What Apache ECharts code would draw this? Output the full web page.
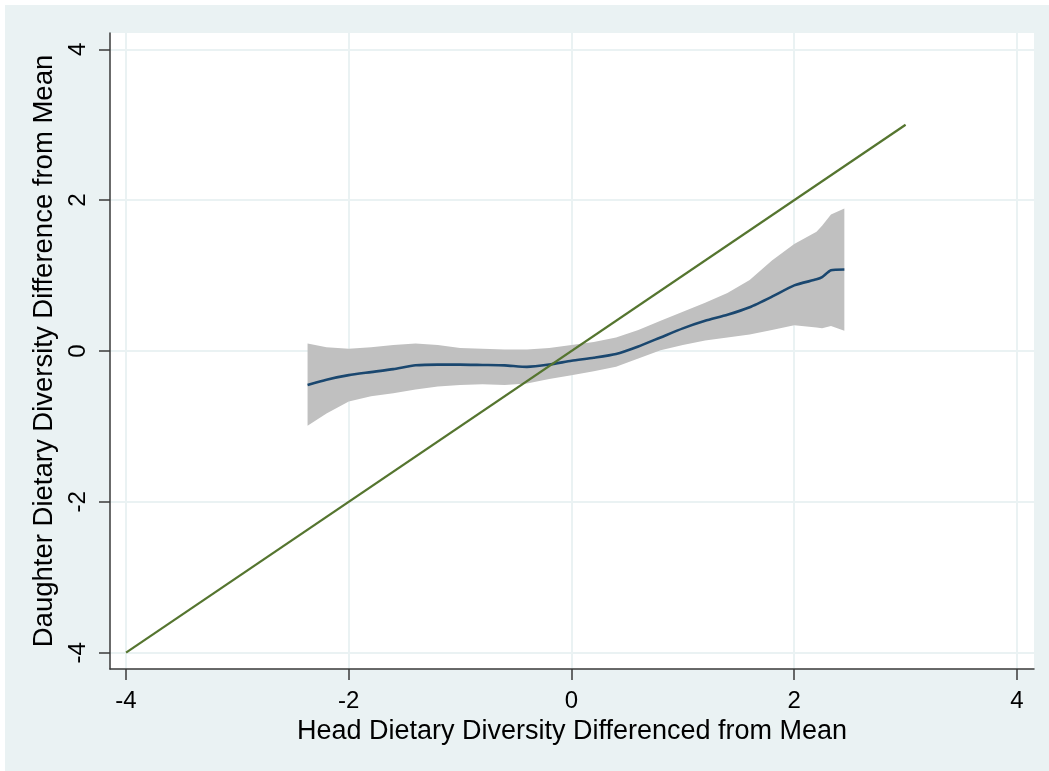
<!DOCTYPE html>
<html>
<head>
<meta charset="utf-8">
<script src="https://cdn.jsdelivr.net/npm/echarts@6/dist/echarts.min.js"></script>
<style>
  html, body { margin: 0; padding: 0; background: #ffffff; }
  #chart { position: absolute; left: 5px; top: 5px; width: 1044px; height: 766px; }
</style>
</head>
<body>
<div id="chart"></div>
<script>
// Local polynomial fit of daughter vs. head dietary diversity, with 95% CI
const headDiff = [-2.37, -2.2, -2.0, -1.8, -1.6, -1.4, -1.2, -1.0, -0.8, -0.6, -0.4, -0.2,
  0.0, 0.2, 0.4, 0.6, 0.8, 1.0, 1.2, 1.4, 1.6, 1.8, 2.0, 2.2, 2.25, 2.33, 2.45];
const fitMean = [-0.45, -0.38, -0.32, -0.28, -0.24, -0.19, -0.18, -0.18, -0.185, -0.19, -0.21, -0.18,
  -0.13, -0.09, -0.04, 0.06, 0.18, 0.30, 0.40, 0.48, 0.58, 0.72, 0.87, 0.95, 0.98, 1.07, 1.08];
const ciUpper = [0.10, 0.05, 0.03, 0.05, 0.08, 0.10, 0.08, 0.04, 0.03, 0.02, 0.02, 0.04,
  0.08, 0.12, 0.18, 0.28, 0.40, 0.52, 0.64, 0.77, 0.94, 1.20, 1.42, 1.58, 1.66, 1.81, 1.89];
const ciLower = [-0.99, -0.83, -0.67, -0.60, -0.56, -0.51, -0.47, -0.45, -0.44, -0.45, -0.43, -0.37,
  -0.32, -0.27, -0.21, -0.10, 0.01, 0.08, 0.14, 0.18, 0.22, 0.28, 0.34, 0.31, 0.30, 0.33, 0.27];
// 45-degree reference line
const refX = [-4, 3];
const refY = [-4, 3];
const tickValues = [-4, -2, 0, 2, 4];

const FONT = "'Liberation Sans', Arial, Helvetica, sans-serif";
const AXIS_COLOR = '#3a3a3a';
const GRID_COLOR = '#eaf2f3';

const chart = echarts.init(document.getElementById('chart'), null, { renderer: 'canvas' });

const axisCommon = {
  type: 'value',
  axisLine: { show: true, onZero: false, lineStyle: { color: AXIS_COLOR, width: 1.5 } },
  axisTick: { show: true, length: 11, customValues: tickValues, lineStyle: { color: AXIS_COLOR, width: 1.5 } },
  splitLine: { show: true, lineStyle: { color: GRID_COLOR, width: 2 } },
  nameLocation: 'middle'
};

// Confidence band: upper bound left-to-right, then lower bound back
function renderBand(params, api) {
  const pts = [];
  for (let i = 0; i < headDiff.length; i++) pts.push(api.coord([headDiff[i], ciUpper[i]]));
  for (let i = headDiff.length - 1; i >= 0; i--) pts.push(api.coord([headDiff[i], ciLower[i]]));
  return {
    type: 'polygon',
    shape: { points: pts },
    style: { fill: '#c0c0c0', stroke: null }
  };
}

chart.setOption({
  backgroundColor: '#eaf2f3',
  animation: false,
  grid: {
    left: 105, top: 28, width: 924, height: 636,
    show: true, backgroundColor: '#ffffff', borderWidth: 0
  },
  xAxis: Object.assign({}, axisCommon, {
    min: -4.144, max: 4.153,
    name: 'Head Dietary Diversity Differenced from Mean',
    nameGap: 44,
    nameTextStyle: { color: '#000', fontSize: 27, fontFamily: FONT },
    axisLabel: { customValues: tickValues, margin: 20, color: '#000', fontSize: 24, fontFamily: FONT }
  }),
  yAxis: Object.assign({}, axisCommon, {
    min: -4.216, max: 4.216,
    name: 'Daughter Dietary Diversity Difference from Mean',
    nameGap: 30,
    nameRotate: 90,
    nameTextStyle: { color: '#000', fontSize: 27.5, fontFamily: FONT },
    axisLabel: { customValues: tickValues, margin: 20, rotate: 90, color: '#000', fontSize: 24, fontFamily: FONT }
  }),
  series: [
    {
      type: 'custom', name: '95% CI',
      data: [[headDiff[0], ciUpper[0]]],
      renderItem: renderBand, silent: true, z: 1
    },
    {
      type: 'line', name: 'lpoly smooth',
      data: headDiff.map((x, i) => [x, fitMean[i]]),
      smooth: 0.2,
      symbol: 'none', lineStyle: { color: '#1a476f', width: 2.6 }, z: 2
    },
    {
      type: 'line', name: 'y = x',
      data: refX.map((x, i) => [x, refY[i]]),
      symbol: 'none', lineStyle: { color: '#55752f', width: 2.2 }, z: 3
    }
  ]
});
</script>
</body>
</html>
